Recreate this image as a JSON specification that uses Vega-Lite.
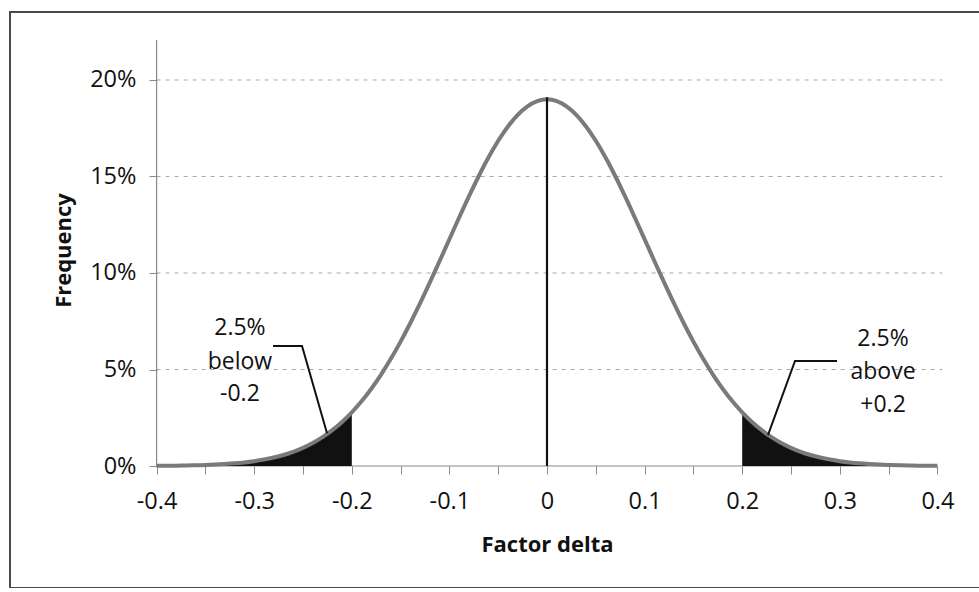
{
  "$schema": "https://vega.github.io/schema/vega-lite/v6.json",
  "autosize": {"type": "none"},
  "padding": {"left": 10, "top": 12, "right": 0, "bottom": 0},
  "width": 975,
  "height": 576,
  "background": "white",
  "config": {
    "view": {"stroke": "#4a4a4a", "strokeWidth": 2},
    "font": "Open Sans",
    "text": {"font": "Open Sans"}
  },
  "datasets": {
    "curve": [
      {"x": -0.40, "y": 0.00009}, {"x": -0.39, "y": 0.00013}, {"x": -0.38, "y": 0.00018}, {"x": -0.37, "y": 0.00026},
      {"x": -0.36, "y": 0.00037}, {"x": -0.35, "y": 0.00053}, {"x": -0.34, "y": 0.00073}, {"x": -0.33, "y": 0.00101},
      {"x": -0.32, "y": 0.00138}, {"x": -0.31, "y": 0.00187}, {"x": -0.30, "y": 0.00251}, {"x": -0.29, "y": 0.00334},
      {"x": -0.28, "y": 0.00439}, {"x": -0.27, "y": 0.00572}, {"x": -0.26, "y": 0.00738}, {"x": -0.25, "y": 0.00943},
      {"x": -0.24, "y": 0.01193}, {"x": -0.23, "y": 0.01495}, {"x": -0.22, "y": 0.01856}, {"x": -0.21, "y": 0.02282},
      {"x": -0.20, "y": 0.02779}, {"x": -0.19, "y": 0.03351}, {"x": -0.18, "y": 0.04004}, {"x": -0.17, "y": 0.04738},
      {"x": -0.16, "y": 0.05552}, {"x": -0.15, "y": 0.06444}, {"x": -0.14, "y": 0.07408}, {"x": -0.13, "y": 0.08434},
      {"x": -0.12, "y": 0.09511}, {"x": -0.11, "y": 0.10622}, {"x": -0.10, "y": 0.11749}, {"x": -0.09, "y": 0.12873},
      {"x": -0.08, "y": 0.13969}, {"x": -0.07, "y": 0.15013}, {"x": -0.06, "y": 0.15981}, {"x": -0.05, "y": 0.16849},
      {"x": -0.04, "y": 0.17594}, {"x": -0.03, "y": 0.18196}, {"x": -0.02, "y": 0.18638}, {"x": -0.01, "y": 0.18909},
      {"x": 0.00, "y": 0.19},
      {"x": 0.01, "y": 0.18909}, {"x": 0.02, "y": 0.18638}, {"x": 0.03, "y": 0.18196}, {"x": 0.04, "y": 0.17594},
      {"x": 0.05, "y": 0.16849}, {"x": 0.06, "y": 0.15981}, {"x": 0.07, "y": 0.15013}, {"x": 0.08, "y": 0.13969},
      {"x": 0.09, "y": 0.12873}, {"x": 0.10, "y": 0.11749}, {"x": 0.11, "y": 0.10622}, {"x": 0.12, "y": 0.09511},
      {"x": 0.13, "y": 0.08434}, {"x": 0.14, "y": 0.07408}, {"x": 0.15, "y": 0.06444}, {"x": 0.16, "y": 0.05552},
      {"x": 0.17, "y": 0.04738}, {"x": 0.18, "y": 0.04004}, {"x": 0.19, "y": 0.03351}, {"x": 0.20, "y": 0.02779},
      {"x": 0.21, "y": 0.02282}, {"x": 0.22, "y": 0.01856}, {"x": 0.23, "y": 0.01495}, {"x": 0.24, "y": 0.01193},
      {"x": 0.25, "y": 0.00943}, {"x": 0.26, "y": 0.00738}, {"x": 0.27, "y": 0.00572}, {"x": 0.28, "y": 0.00439},
      {"x": 0.29, "y": 0.00334}, {"x": 0.30, "y": 0.00251}, {"x": 0.31, "y": 0.00187}, {"x": 0.32, "y": 0.00138},
      {"x": 0.33, "y": 0.00101}, {"x": 0.34, "y": 0.00073}, {"x": 0.35, "y": 0.00053}, {"x": 0.36, "y": 0.00037},
      {"x": 0.37, "y": 0.00026}, {"x": 0.38, "y": 0.00018}, {"x": 0.39, "y": 0.00013}, {"x": 0.40, "y": 0.00009}
    ],
    "grid": [
      {"x": -0.4, "x2": 0.405, "y": 0.05},
      {"x": -0.4, "x2": 0.405, "y": 0.10},
      {"x": -0.4, "x2": 0.405, "y": 0.15},
      {"x": -0.4, "x2": 0.405, "y": 0.20}
    ],
    "axisLines": [
      {"x": -0.4, "x2": -0.4, "y": 0, "y2": 0.2207},
      {"x": -0.4, "x2": 0.4, "y": 0, "y2": 0}
    ],
    "mean": [{"x": 0, "x2": 0, "y": 0, "y2": 0.191}],
    "callouts": [
      {"g": "left", "seq": 1, "x": -0.2807, "y": 0.0622},
      {"g": "left", "seq": 2, "x": -0.2510, "y": 0.0622},
      {"g": "left", "seq": 3, "x": -0.2254, "y": 0.0170},
      {"g": "right", "seq": 1, "x": 0.2971, "y": 0.0544},
      {"g": "right", "seq": 2, "x": 0.2541, "y": 0.0544},
      {"g": "right", "seq": 3, "x": 0.2264, "y": 0.0160}
    ],
    "labels": [
      {"x": -0.3146, "y": 0.0715, "text": "2.5%"},
      {"x": -0.3146, "y": 0.0539, "text": "below"},
      {"x": -0.3146, "y": 0.0373, "text": "-0.2"},
      {"x": 0.3443, "y": 0.0658, "text": "2.5%"},
      {"x": 0.3443, "y": 0.0487, "text": "above"},
      {"x": 0.3443, "y": 0.0316, "text": "+0.2"}
    ]
  },
  "layer": [
    {
      "data": {"name": "grid"},
      "mark": {"type": "rule", "color": "#a8a8a8", "strokeWidth": 1, "strokeDash": [4, 5]},
      "encoding": {
        "x": {
          "field": "x", "type": "quantitative",
          "scale": {"domain": [-0.5502, 0.44877], "nice": false, "zero": false},
          "axis": {
            "title": "Factor delta",
            "values": [-0.4, -0.35, -0.3, -0.25, -0.2, -0.15, -0.1, -0.05, 0, 0.05, 0.1, 0.15, 0.2, 0.25, 0.3, 0.35, 0.4],
            "labelExpr": "abs(round(datum.value*100)) % 10 == 0 ? (datum.value == 0 ? '0' : (datum.value < 0 ? '-' : '') + format(abs(datum.value), '.1f')) : ''",
            "offset": -122,
            "domain": false,
            "grid": false,
            "ticks": true,
            "tickColor": "#8a8a8a",
            "tickSize": 8,
            "tickWidth": 1,
            "labelFont": "Open Sans",
            "labelFontSize": 23.5,
            "labelColor": "#111",
            "labelPadding": 15,
            "labelFlush": false,
            "labelOverlap": false,
            "titleFont": "Open Sans",
            "titleFontSize": 22,
            "titleFontWeight": "bold",
            "titleColor": "#111",
            "titleX": 537,
            "titlePadding": 22
          }
        },
        "x2": {"field": "x2"},
        "y": {
          "field": "y", "type": "quantitative",
          "scale": {"domain": [-0.06321, 0.23523], "nice": false, "zero": false},
          "axis": {
            "title": "Frequency",
            "values": [0, 0.05, 0.1, 0.15, 0.2],
            "format": ".0%",
            "offset": -147,
            "domain": false,
            "grid": false,
            "tickColor": "#8a8a8a",
            "tickSize": 8,
            "tickWidth": 1,
            "labelFont": "Open Sans",
            "labelFontSize": 23.5,
            "labelColor": "#111",
            "labelPadding": 13,
            "labelOverlap": false,
            "titleFont": "Open Sans",
            "titleFontSize": 22,
            "titleFontWeight": "bold",
            "titleColor": "#111",
            "titleY": 238,
            "titlePadding": 14
          }
        }
      }
    },
    {
      "data": {"name": "axisLines"},
      "mark": {"type": "rule", "color": "#8a8a8a", "strokeWidth": 1.2},
      "encoding": {
        "x": {"field": "x", "type": "quantitative"},
        "x2": {"field": "x2"},
        "y": {"field": "y", "type": "quantitative"},
        "y2": {"field": "y2"}
      }
    },
    {
      "data": {"name": "curve"},
      "transform": [{"filter": "datum.x <= -0.2"}],
      "mark": {"type": "area", "color": "#111111", "interpolate": "monotone"},
      "encoding": {
        "x": {"field": "x", "type": "quantitative"},
        "y": {"field": "y", "type": "quantitative"}
      }
    },
    {
      "data": {"name": "curve"},
      "transform": [{"filter": "datum.x >= 0.2"}],
      "mark": {"type": "area", "color": "#111111", "interpolate": "monotone"},
      "encoding": {
        "x": {"field": "x", "type": "quantitative"},
        "y": {"field": "y", "type": "quantitative"}
      }
    },
    {
      "data": {"name": "curve"},
      "mark": {"type": "line", "color": "#7a7a7a", "strokeWidth": 4, "interpolate": "monotone"},
      "encoding": {
        "x": {"field": "x", "type": "quantitative"},
        "y": {"field": "y", "type": "quantitative"}
      }
    },
    {
      "data": {"name": "mean"},
      "mark": {"type": "rule", "color": "#111111", "strokeWidth": 2.2},
      "encoding": {
        "x": {"field": "x", "type": "quantitative"},
        "y": {"field": "y", "type": "quantitative"},
        "y2": {"field": "y2"}
      }
    },
    {
      "data": {"name": "callouts"},
      "mark": {"type": "line", "color": "#111111", "strokeWidth": 2},
      "encoding": {
        "x": {"field": "x", "type": "quantitative"},
        "y": {"field": "y", "type": "quantitative"},
        "detail": {"field": "g"},
        "order": {"field": "seq"}
      }
    },
    {
      "data": {"name": "labels"},
      "mark": {"type": "text", "font": "Open Sans", "fontSize": 23, "color": "#111", "align": "center", "baseline": "middle"},
      "encoding": {
        "x": {"field": "x", "type": "quantitative"},
        "y": {"field": "y", "type": "quantitative"},
        "text": {"field": "text"}
      }
    }
  ]
}
